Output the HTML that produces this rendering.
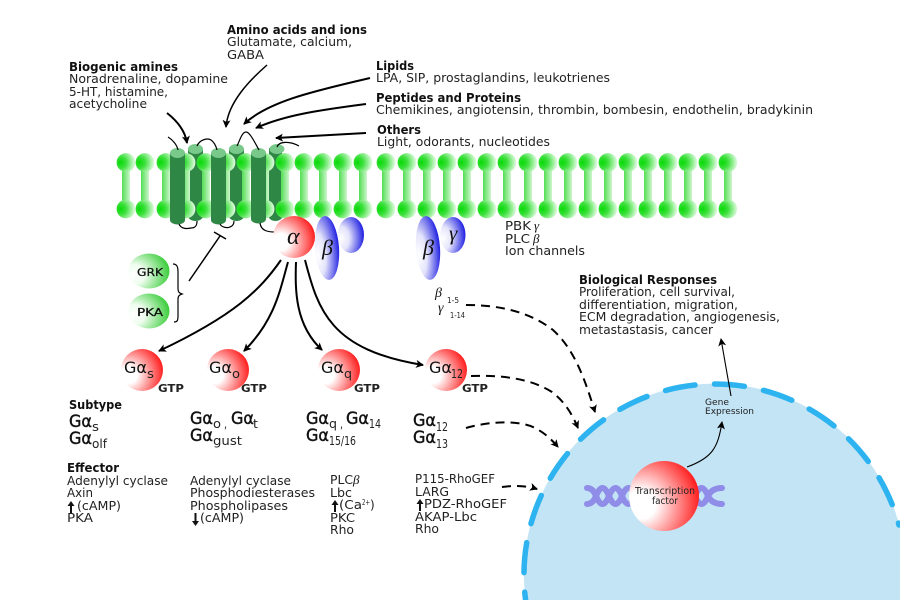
<!DOCTYPE html>
<html>
<head>
<meta charset="utf-8">
<style>
html,body{margin:0;padding:0;background:#fff;width:900px;height:600px;overflow:hidden}
svg{display:block}
text{font-family:"DejaVu Sans","Liberation Sans",sans-serif;font-size:12px;fill:#222}
.b{font-weight:bold;fill:#111}
.g{font-size:16px;fill:#111}
.gb{font-size:17px;fill:#111;stroke:#111;stroke-width:.4}
.sb{font-size:11px;font-weight:bold;fill:#222}
.m{font-size:11px;fill:#111;stroke:#111;stroke-width:.3}
.i{font-family:"Liberation Serif",serif;font-style:italic;fill:#111}
.l{fill:none;stroke:#000;stroke-width:1.5}
.h{fill:none;stroke:#000;stroke-width:1.2}
.t{fill:none;stroke:#000;stroke-width:2}
.d{fill:none;stroke:#000;stroke-width:2;stroke-dasharray:9 6}
</style>
</head>
<body>
<svg width="900" height="600" viewBox="0 0 900 600" xmlns="http://www.w3.org/2000/svg">
<defs>
<radialGradient id="hd" cx=".2" cy=".5" r=".8"><stop offset="0" stop-color="#08da08"/><stop offset=".38" stop-color="#3ce03c"/><stop offset="1" stop-color="#e4fbe4"/></radialGradient>
<linearGradient id="st" x1="0" x2="1" y1="0" y2="0"><stop offset="0" stop-color="#52de52"/><stop offset="1" stop-color="#cdf6cd"/></linearGradient>
<radialGradient id="red" cx=".18" cy=".62" r=".92"><stop offset="0" stop-color="#fff"/><stop offset=".22" stop-color="#fff"/><stop offset="1" stop-color="#ff0000"/></radialGradient>
<radialGradient id="blue" cx=".1" cy=".6" r=".95"><stop offset="0" stop-color="#fff"/><stop offset=".35" stop-color="#e4e4fb"/><stop offset="1" stop-color="#1010e0"/></radialGradient>
<radialGradient id="grn" cx=".12" cy=".6" r=".95"><stop offset="0" stop-color="#fff"/><stop offset=".3" stop-color="#effdef"/><stop offset="1" stop-color="#28c828"/></radialGradient>
<g id="lip">
<rect x="-4" y="163" width="8" height="46" fill="url(#st)"/>
<circle cx="0" cy="162.500" r="9.400" fill="url(#hd)"/>
<circle cx="0" cy="209" r="9.400" fill="url(#hd)"/>
</g>
<marker id="a" markerUnits="userSpaceOnUse" markerWidth="10" markerHeight="10" refX="7" refY="4" orient="auto"><path d="M0 0L8 4L0 8L2 4Z" fill="#000"/></marker>
</defs>

<rect width="900" height="600" fill="#fff"/>

<!-- back cylinders -->
<g fill="#2f8746">
<rect x="188" y="148" width="15" height="68"/><ellipse cx="195.500" cy="216" rx="7.500" ry="5"/>
<rect x="229" y="148" width="15" height="68"/><ellipse cx="236.500" cy="216" rx="7.500" ry="5"/>
<rect x="269" y="148" width="13" height="68"/><ellipse cx="275.500" cy="216" rx="7" ry="5"/>
</g>
<g fill="#79c98b">
<ellipse cx="195.500" cy="149" rx="7.500" ry="5"/>
<ellipse cx="236.500" cy="149" rx="7.500" ry="5"/>
<ellipse cx="277" cy="149" rx="7.500" ry="5"/>
</g>

<!-- lipids -->
<use href="#lip" x="126"/><use href="#lip" x="145"/><use href="#lip" x="166"/><use href="#lip" x="186"/><use href="#lip" x="206"/><use href="#lip" x="226"/><use href="#lip" x="246"/><use href="#lip" x="265"/><use href="#lip" x="285"/><use href="#lip" x="304"/><use href="#lip" x="323"/><use href="#lip" x="343"/><use href="#lip" x="363"/><use href="#lip" x="386"/><use href="#lip" x="407"/><use href="#lip" x="427"/><use href="#lip" x="447"/><use href="#lip" x="467"/><use href="#lip" x="487"/><use href="#lip" x="507"/><use href="#lip" x="528"/><use href="#lip" x="548"/><use href="#lip" x="568"/><use href="#lip" x="588"/><use href="#lip" x="608"/><use href="#lip" x="628"/><use href="#lip" x="648"/><use href="#lip" x="668"/><use href="#lip" x="688"/><use href="#lip" x="708"/><use href="#lip" x="728"/>

<!-- front cylinders -->
<g fill="#2f8746">
<rect x="170" y="153" width="15" height="67"/><ellipse cx="177.500" cy="220" rx="7.500" ry="4.500"/>
<rect x="211" y="153" width="15" height="67"/><ellipse cx="218.500" cy="220" rx="7.500" ry="4.500"/>
<rect x="251" y="153" width="15" height="66"/><ellipse cx="258.500" cy="219" rx="7.500" ry="4.500"/>
</g>
<g fill="#79c98b">
<ellipse cx="177.500" cy="153" rx="7.500" ry="5"/>
<ellipse cx="218.500" cy="153" rx="7.500" ry="5"/>
<ellipse cx="258.500" cy="153" rx="7.500" ry="5"/>
</g>

<!-- receptor loops -->
<path class="h" d="M168 137C173 140 177 145 178 150"/>
<path class="h" d="M197 146C200 139 208 138 211 140C214 142 216 146 217 150"/>
<path class="h" d="M237 146C240 140 242 132 246 132C250 132 255 143 259 150"/>
<path class="h" d="M277 147C279 141 290 141 299 146"/>
<path class="h" d="M179 224C181 229 187 229 191 228C196 228 197 225 197 221"/>
<path class="h" d="M220 224C222 228 228 228 230 227C233 226 234 224 234 221"/>
<path class="h" d="M260 223C261 231 268 232 275 232"/>

<!-- top arrows -->
<path class="t" marker-end="url(#a)" d="M167 113C176 120 185 130 187 143"/>
<path class="l" marker-end="url(#a)" d="M267 65C250 80 228 102 226 127"/>
<path class="t" marker-end="url(#a)" d="M370 78C320 90 270 100 244 124"/>
<path class="t" marker-end="url(#a)" d="M366 104C320 110 285 115 256 128"/>
<path class="t" marker-end="url(#a)" d="M366 133L276 138"/>

<!-- alpha beta gamma -->
<ellipse cx="351" cy="235" rx="13" ry="18" fill="url(#blue)"/>
<ellipse cx="327" cy="248" rx="12" ry="32" fill="url(#blue)" transform="rotate(-4 327 248)"/>
<circle cx="294" cy="237" r="21" fill="url(#red)"/>
<text class="i" x="287" y="244" style="font-size:24px">α</text>
<text class="i" x="322" y="255" style="font-size:22px">β</text>
<ellipse cx="453" cy="235" rx="12.500" ry="18" fill="url(#blue)"/>
<ellipse cx="428" cy="248" rx="12" ry="32" fill="url(#blue)" transform="rotate(-4 428 248)"/>
<text class="i" x="423" y="255" style="font-size:22px">β</text>
<text class="i" x="449" y="240" style="font-size:21px">γ</text>

<!-- GRK PKA -->
<ellipse cx="149" cy="271" rx="20.500" ry="17.500" fill="url(#grn)"/>
<ellipse cx="149" cy="311" rx="20.500" ry="17.500" fill="url(#grn)"/>
<text class="m" x="137" y="276" textLength="26" lengthAdjust="spacingAndGlyphs">GRK</text>
<text class="m" x="137" y="316" textLength="26" lengthAdjust="spacingAndGlyphs">PKA</text>
<path class="h" d="M173 264C177 264 178 267 178 272V288C178 292 179 293 182 294C179 295 178 296 178 300V316C178 321 177 322 174 322"/>
<path class="l" d="M189 281L220 236"/>
<path class="l" d="M214 232L226 239"/>

<!-- nucleus -->
<path d="M525.600 600A191 191 0 0 1 900 527.500V600Z" fill="#c3e4f5"/>
<path d="M714.500 384A191 191 0 0 1 899 525" fill="none" stroke="#2db3ef" stroke-width="5.500" stroke-linecap="round" stroke-dasharray="30 19.500"/>
<path d="M714.500 384A191 191 0 0 0 525.600 600" fill="none" stroke="#2db3ef" stroke-width="5.500" stroke-linecap="round" stroke-dasharray="30 19.500" stroke-dashoffset="30"/>

<!-- G alpha circles -->
<circle cx="142" cy="370" r="21" fill="url(#red)"/>
<circle cx="228" cy="370" r="21" fill="url(#red)"/>
<circle cx="339" cy="370" r="21" fill="url(#red)"/>
<circle cx="446" cy="370" r="21" fill="url(#red)"/>
<text class="g" x="124" y="373" textLength="23" lengthAdjust="spacingAndGlyphs">Gα</text><text x="147" y="378" textLength="7" lengthAdjust="spacingAndGlyphs">s</text>
<text class="g" x="209" y="373" textLength="23" lengthAdjust="spacingAndGlyphs">Gα</text><text x="232" y="378" textLength="8" lengthAdjust="spacingAndGlyphs">o</text>
<text class="g" x="321" y="373" textLength="23" lengthAdjust="spacingAndGlyphs">Gα</text><text x="344" y="378" textLength="8" lengthAdjust="spacingAndGlyphs">q</text>
<text class="g" x="429" y="373" textLength="23" lengthAdjust="spacingAndGlyphs">Gα</text><text x="451" y="378" textLength="12" lengthAdjust="spacingAndGlyphs">12</text>
<text class="sb" x="158" y="392" textLength="26" lengthAdjust="spacingAndGlyphs">GTP</text>
<text class="sb" x="241" y="392" textLength="26" lengthAdjust="spacingAndGlyphs">GTP</text>
<text class="sb" x="354" y="392" textLength="26" lengthAdjust="spacingAndGlyphs">GTP</text>
<text class="sb" x="462" y="392" textLength="26" lengthAdjust="spacingAndGlyphs">GTP</text>

<!-- alpha to subtypes -->
<path class="t" marker-end="url(#a)" d="M281 260C260 290 235 315 159 351"/>
<path class="t" marker-end="url(#a)" d="M288 262C280 290 275 320 244 351"/>
<path class="t" marker-end="url(#a)" d="M296 262C295 290 295 325 322 350"/>
<path class="t" marker-end="url(#a)" d="M305 260C318 310 330 350 423 365"/>

<!-- dashed -->
<path class="d" marker-end="url(#a)" d="M466 305C500 305 530 312 553 330C575 350 585 380 595 412"/>
<path class="d" marker-end="url(#a)" d="M471 376C500 375 530 378 552 392C565 402 572 414 578 428"/>
<path class="d" marker-end="url(#a)" d="M466 428C490 421 520 420 535 428C545 433 552 440 558 447"/>
<path class="d" marker-end="url(#a)" d="M502 487C515 485 528 486 537 489"/>

<!-- top text -->
<text class="b" x="69" y="71" textLength="109" lengthAdjust="spacingAndGlyphs">Biogenic amines</text>
<text x="69" y="83" textLength="159" lengthAdjust="spacingAndGlyphs">Noradrenaline, dopamine</text>
<text x="69" y="96" textLength="99" lengthAdjust="spacingAndGlyphs">5-HT, histamine,</text>
<text x="69" y="108" textLength="78" lengthAdjust="spacingAndGlyphs">acetycholine</text>
<text class="b" x="227" y="34" textLength="140" lengthAdjust="spacingAndGlyphs">Amino acids and ions</text>
<text x="227" y="46" textLength="125" lengthAdjust="spacingAndGlyphs">Glutamate, calcium,</text>
<text x="227" y="59" textLength="37" lengthAdjust="spacingAndGlyphs">GABA</text>
<text class="b" x="376" y="70" textLength="38" lengthAdjust="spacingAndGlyphs">Lipids</text>
<text x="376" y="82" textLength="234" lengthAdjust="spacingAndGlyphs">LPA, SIP, prostaglandins, leukotrienes</text>
<text class="b" x="376" y="102" textLength="145" lengthAdjust="spacingAndGlyphs">Peptides and Proteins</text>
<text x="376" y="114" textLength="437" lengthAdjust="spacingAndGlyphs">Chemikines, angiotensin, thrombin, bombesin, endothelin, bradykinin</text>
<text class="b" x="377" y="134" textLength="44" lengthAdjust="spacingAndGlyphs">Others</text>
<text x="377" y="146" textLength="173" lengthAdjust="spacingAndGlyphs">Light, odorants, nucleotides</text>

<!-- PBK -->
<text x="505" y="230" textLength="26" lengthAdjust="spacingAndGlyphs">PBK</text><text class="i" x="534" y="230" style="font-size:13px">γ</text>
<text x="505" y="243" textLength="25" lengthAdjust="spacingAndGlyphs">PLC</text><text class="i" x="533" y="243" style="font-size:13px">β</text>
<text x="505" y="255" textLength="80" lengthAdjust="spacingAndGlyphs">Ion channels</text>

<!-- beta gamma sub -->
<text class="i" x="435" y="297" style="font-size:14px">β</text>
<text x="447" y="303" textLength="12" lengthAdjust="spacingAndGlyphs" style="font-size:8px">1-5</text>
<text class="i" x="438" y="312" style="font-size:14px">γ</text>
<text x="450" y="318" textLength="15" lengthAdjust="spacingAndGlyphs" style="font-size:8px">1-14</text>

<!-- bio responses -->
<text class="b" x="579" y="284" textLength="138" lengthAdjust="spacingAndGlyphs">Biological Responses</text>
<text x="579" y="296" textLength="156" lengthAdjust="spacingAndGlyphs">Proliferation, cell survival,</text>
<text x="579" y="309" textLength="159" lengthAdjust="spacingAndGlyphs">differentiation, migration,</text>
<text x="579" y="321" textLength="201" lengthAdjust="spacingAndGlyphs">ECM degradation, angiogenesis,</text>
<text x="579" y="334" textLength="134" lengthAdjust="spacingAndGlyphs">metastastasis, cancer</text>

<!-- subtype -->
<text class="b" x="69" y="409" textLength="53" lengthAdjust="spacingAndGlyphs">Subtype</text>
<text class="gb" x="69" y="427" textLength="23" lengthAdjust="spacingAndGlyphs">Gα</text><text x="92" y="431" textLength="7" lengthAdjust="spacingAndGlyphs">s</text>
<text class="gb" x="69" y="444" textLength="23" lengthAdjust="spacingAndGlyphs">Gα</text><text x="92" y="448" textLength="15" lengthAdjust="spacingAndGlyphs">olf</text>
<text class="gb" x="190" y="424" textLength="23" lengthAdjust="spacingAndGlyphs">Gα</text><text x="213" y="428" textLength="8" lengthAdjust="spacingAndGlyphs">o</text><text x="224" y="428" textLength="3" lengthAdjust="spacingAndGlyphs">,</text>
<text class="gb" x="231" y="424" textLength="23" lengthAdjust="spacingAndGlyphs">Gα</text><text x="253" y="428" textLength="5" lengthAdjust="spacingAndGlyphs">t</text>
<text class="gb" x="190" y="441" textLength="23" lengthAdjust="spacingAndGlyphs">Gα</text><text x="213" y="445" textLength="29" lengthAdjust="spacingAndGlyphs">gust</text>
<text class="gb" x="306" y="424" textLength="23" lengthAdjust="spacingAndGlyphs">Gα</text><text x="329" y="428" textLength="8" lengthAdjust="spacingAndGlyphs">q</text><text x="340" y="428" textLength="3" lengthAdjust="spacingAndGlyphs">,</text>
<text class="gb" x="346" y="424" textLength="23" lengthAdjust="spacingAndGlyphs">Gα</text><text x="369" y="428" textLength="12" lengthAdjust="spacingAndGlyphs">14</text>
<text class="gb" x="306" y="441" textLength="23" lengthAdjust="spacingAndGlyphs">Gα</text><text x="329" y="445" textLength="27" lengthAdjust="spacingAndGlyphs">15/16</text>
<text class="gb" x="413" y="426" textLength="23" lengthAdjust="spacingAndGlyphs">Gα</text><text x="436" y="431" textLength="12" lengthAdjust="spacingAndGlyphs">12</text>
<text class="gb" x="413" y="443" textLength="23" lengthAdjust="spacingAndGlyphs">Gα</text><text x="436" y="448" textLength="12" lengthAdjust="spacingAndGlyphs">13</text>

<!-- effector -->
<text class="b" x="67" y="472" textLength="52" lengthAdjust="spacingAndGlyphs">Effector</text>
<text x="67" y="485" textLength="101" lengthAdjust="spacingAndGlyphs">Adenylyl cyclase</text>
<text x="67" y="497" textLength="26" lengthAdjust="spacingAndGlyphs">Axin</text>
<text x="77" y="510" textLength="44" lengthAdjust="spacingAndGlyphs">(cAMP)</text>
<text x="67" y="522" textLength="26" lengthAdjust="spacingAndGlyphs">PKA</text>

<text x="190" y="485" textLength="101" lengthAdjust="spacingAndGlyphs">Adenylyl cyclase</text>
<text x="190" y="497" textLength="125" lengthAdjust="spacingAndGlyphs">Phosphodiesterases</text>
<text x="190" y="510" textLength="98" lengthAdjust="spacingAndGlyphs">Phospholipases</text>
<text x="200" y="522" textLength="44" lengthAdjust="spacingAndGlyphs">(cAMP)</text>

<text x="330" y="484" textLength="23" lengthAdjust="spacingAndGlyphs">PLC</text><text class="i" x="353" y="484" style="font-size:13px">β</text>
<text x="330" y="497" textLength="22" lengthAdjust="spacingAndGlyphs">Lbc</text>
<text x="339" y="509" textLength="23" lengthAdjust="spacingAndGlyphs">(Ca</text><text x="362" y="505" textLength="8" lengthAdjust="spacingAndGlyphs" style="font-size:8px">2+</text><text x="370" y="509">)</text>
<text x="330" y="522" textLength="25" lengthAdjust="spacingAndGlyphs">PKC</text>
<text x="330" y="534" textLength="24" lengthAdjust="spacingAndGlyphs">Rho</text>

<text x="415" y="483" textLength="80" lengthAdjust="spacingAndGlyphs">P115-RhoGEF</text>
<text x="415" y="496" textLength="34" lengthAdjust="spacingAndGlyphs">LARG</text>
<text x="424" y="508" textLength="83" lengthAdjust="spacingAndGlyphs">PDZ-RhoGEF</text>
<text x="415" y="521" textLength="62" lengthAdjust="spacingAndGlyphs">AKAP-Lbc</text>
<text x="415" y="533" textLength="24" lengthAdjust="spacingAndGlyphs">Rho</text>

<!-- small up/down arrows -->
<g fill="#111" stroke="none">
<path d="M71 501L74.500 506H72V513H70V506H67.500Z"/>
<path d="M195.500 526L199 521H196.500V513H194.500V521H192Z"/>
<path d="M335 500L338.500 505H336V512H334V505H331.500Z"/>
<path d="M420 499L423.500 504H421V511H419V504H416.500Z"/>
</g>

<!-- DNA -->
<g fill="none" stroke="#8f8de8" stroke-width="6" stroke-linecap="round">
<path d="M587 488Q593 488 596 496Q602.500 512 609 496Q615.500 480 622 496Q628.500 512 635 496"/>
<path d="M587 504Q593 504 596 496Q602.500 480 609 496Q615.500 512 622 496Q628.500 480 635 496"/>
<path d="M695 496Q701.500 512 708 496Q712 488 722 488"/>
<path d="M695 496Q701.500 480 708 496Q712 504 722 504"/>
</g>
<circle cx="664" cy="496" r="35" fill="url(#red)"/>
<text x="635" y="494" textLength="60" lengthAdjust="spacingAndGlyphs" style="font-size:9.500px">Transcription</text>
<text x="652" y="504" textLength="26" lengthAdjust="spacingAndGlyphs" style="font-size:9.500px">factor</text>

<!-- gene expression -->
<path fill="none" stroke="#000" stroke-width="1.100" marker-end="url(#a)" d="M687 467C712 458 718 448 722 422"/>
<text x="705" y="405" textLength="24" lengthAdjust="spacingAndGlyphs" style="font-size:8.500px">Gene</text>
<text x="705" y="414" textLength="49" lengthAdjust="spacingAndGlyphs" style="font-size:8.500px">Expression</text>
<path fill="none" stroke="#000" stroke-width="1.100" marker-end="url(#a)" d="M731 396L721 339"/>
</svg>
</body>
</html>
